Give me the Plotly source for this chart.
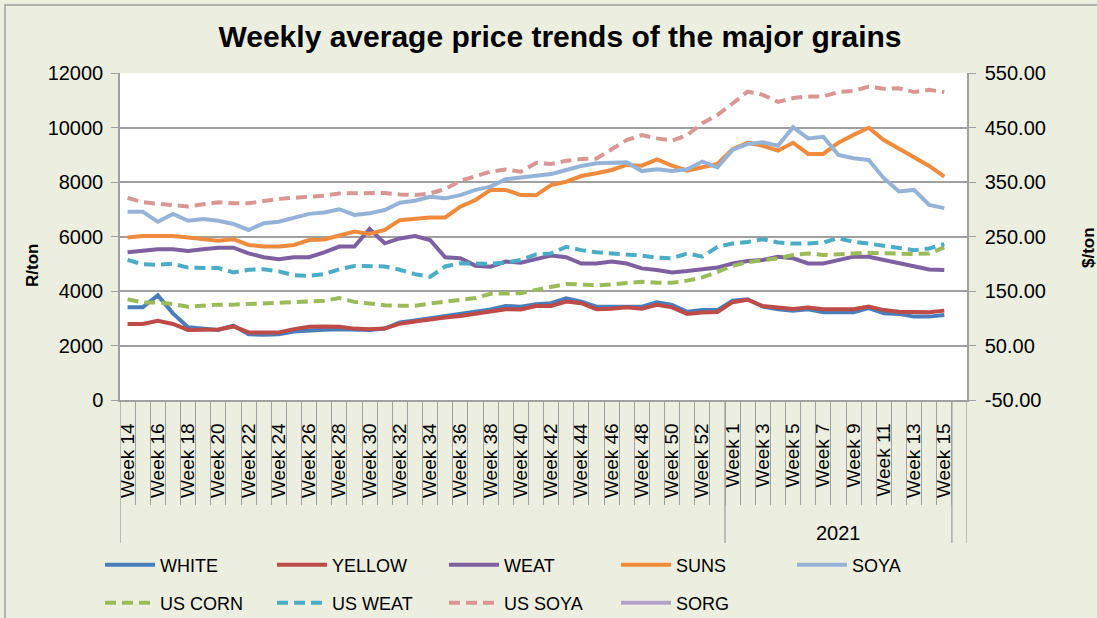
import plotly.graph_objects as go

# ---------------- data ----------------
weeks_2020 = ["Week %d" % w for w in range(14, 54)]
weeks_2021 = ["Week %d" % w for w in range(1, 16)]
categories = weeks_2020 + weeks_2021
year_group = "2021"

white = [3400, 3400, 3840, 3180, 2670, 2630, 2570, 2730, 2410, 2390, 2410, 2510, 2560, 2580,
         2600, 2570, 2570, 2620, 2850, 2920, 3000, 3080, 3150, 3250, 3320, 3450, 3420, 3510,
         3550, 3730, 3610, 3425, 3425, 3450, 3425, 3585, 3490, 3240, 3300, 3300,
         3645, 3700, 3425, 3330, 3280, 3330, 3220, 3220, 3220, 3370, 3180, 3160, 3060, 3060, 3120]
yellow = [2790, 2790, 2910, 2790, 2570, 2570, 2590, 2700, 2480, 2480, 2480, 2600, 2690, 2700,
          2690, 2620, 2600, 2620, 2800, 2880, 2960, 3030, 3080, 3160, 3220, 3330, 3320, 3450,
          3450, 3610, 3550, 3330, 3350, 3400, 3350, 3490, 3400, 3160, 3210, 3230,
          3590, 3680, 3450, 3390, 3340, 3390, 3330, 3330, 3330, 3430, 3300, 3240, 3220, 3220, 3280]
weat = [5420, 5470, 5530, 5530, 5470, 5530, 5590, 5590, 5380, 5240, 5170, 5240, 5240, 5420,
        5630, 5630, 6276, 5750, 5930, 6020, 5870, 5240, 5200, 4930, 4890, 5080, 5040, 5170,
        5300, 5240, 5010, 5010, 5080, 5010, 4830, 4770, 4680, 4730, 4790, 4860,
        5010, 5100, 5140, 5260, 5200, 5010, 5010, 5140, 5260, 5260, 5140, 5040, 4890, 4790, 4770]
suns = [5960, 6020, 6020, 6020, 5960, 5900, 5840, 5900, 5690, 5630, 5630, 5690, 5870, 5890,
        6020, 6180, 6090, 6240, 6600, 6660, 6700, 6700, 7095, 7340, 7710, 7710, 7520, 7510,
        7890, 8010, 8220, 8320, 8440, 8625, 8600, 8830, 8600, 8420, 8540, 8660,
        9200, 9440, 9330, 9150, 9440, 9030, 9030, 9440, 9730, 9990, 9540, 9240, 8910, 8590, 8200]
soya = [6910, 6910, 6540, 6830, 6580, 6640, 6580, 6460, 6240, 6490, 6540, 6670, 6830, 6880,
        7000, 6790, 6850, 6970, 7240, 7310, 7460, 7400, 7520, 7710, 7830, 8100, 8160, 8220,
        8290, 8440, 8590, 8690, 8720, 8720, 8400, 8470, 8400, 8470, 8750, 8540,
        9180, 9400, 9460, 9330, 10010, 9600, 9660, 8990, 8870, 8810, 8140, 7650, 7710, 7160, 7040]
us_corn = [135, 129, 129, 126, 121, 123, 125, 125, 126, 127, 128, 130, 130, 132,
           137, 130, 127, 124, 123, 123, 127, 130, 133, 137, 145, 145, 146, 152,
           158, 163, 162, 160, 162, 165, 167, 165, 165, 169, 175, 185,
           196, 203, 207, 210, 216, 219, 216, 218, 219, 220, 219, 218, 218, 219, 230]
us_weat = [207, 199, 198, 200, 193, 193, 192, 184, 189, 190, 186, 179, 178, 181,
           190, 196, 196, 195, 189, 181, 176, 195, 201, 200, 200, 202, 207, 217,
           219, 231, 225, 221, 219, 218, 215, 211, 210, 219, 213, 231,
           237, 240, 245, 239, 237, 237, 239, 247, 240, 237, 233, 230, 225, 228, 236]
us_soya = [321, 313, 310, 307, 305, 309, 313, 311, 311, 315, 319, 321, 323, 325,
           329, 329, 330, 330, 327, 326, 329, 337, 352, 360, 369, 373, 369, 385,
           383, 389, 392, 393, 409, 427, 436, 430, 426, 436, 458, 473,
           494, 516, 510, 497, 504, 507, 507, 515, 517, 525, 521, 522, 515, 519, 515]
sorg = [None] * len(categories)

left_ticks = [0, 2000, 4000, 6000, 8000, 10000, 12000]
right_ticks = [-50, 50, 150, 250, 350, 450, 550]

# ---------------- figure ----------------
xs = list(range(len(categories)))
n_slots = len(categories) + 1  # one empty slot at the end, as in the original
FONT = "Liberation Sans, Arial, sans-serif"
GRID = "#A0A0A0"
BG = "#ECEFDF"
COL_W = 173          # legend column pitch (px)
LEG_X0 = 100         # legend left edge (px)

fig = go.Figure()

solid = [("WHITE", white, "#4A7EBB", "legend"), ("YELLOW", yellow, "#BE4B48", "legend"),
         ("WEAT", weat, "#7D60A0", "legend"), ("SUNS", suns, "#F08A3C", "legend"),
         ("SOYA", soya, "#95B3D7", "legend3")]
dashed = [("US CORN", us_corn, "#9BBB59"), ("US WEAT", us_weat, "#4BACC6"),
          ("US SOYA", us_soya, "#D99694")]

for name, vals, col, leg in solid:
    fig.add_trace(go.Scatter(x=xs, y=vals, name=name, mode="lines",
                             line=dict(color=col, width=4), legend=leg))
for name, vals, col in dashed:
    fig.add_trace(go.Scatter(x=xs, y=vals, name=name, mode="lines", yaxis="y2",
                             line=dict(color=col, width=4, dash="11px,6px"), legend="legend2"))
fig.add_trace(go.Scatter(x=xs, y=sorg, name="SORG", mode="lines",
                         line=dict(color="#B3A2C7", width=4), legend="legend2"))

tickvals = xs[::2]
ticktext = categories[::2]
boundaries = [i + 0.5 for i in range(len(categories))]


def legend_box(x_px, y_px):
    return dict(orientation="h", xref="container", yref="container",
                x=x_px / 1097, y=1 - y_px / 618, xanchor="left", yanchor="middle",
                itemwidth=50, entrywidth=COL_W - 66, entrywidthmode="pixels",
                font=dict(size=18), bgcolor="rgba(0,0,0,0)", traceorder="normal")


fig.update_layout(
    width=1097, height=618,
    margin=dict(l=120, r=130, t=73, b=218),
    paper_bgcolor=BG, plot_bgcolor="white",
    font=dict(family=FONT, color="black", size=19),
    title=dict(text="<b>Weekly average price trends of the major grains</b>",
               xref="container", yref="container", x=560 / 1097, y=1 - 36 / 618,
               xanchor="center", yanchor="middle",
               font=dict(size=30, family=FONT, color="black")),
    xaxis=dict(range=[-0.5, n_slots - 0.5], tickmode="array", tickvals=tickvals,
               ticktext=ticktext, tickangle=-90, ticks="", ticklabelstandoff=14,
               tickfont=dict(size=19), showgrid=False, zeroline=False,
               showline=True, linecolor=GRID, linewidth=1.5,
               minor=dict(tickmode="array", tickvals=boundaries, ticks="outside",
                          ticklen=103, tickcolor=GRID, tickwidth=1.3, showgrid=False)),
    yaxis=dict(range=[0, 12000], tickmode="array", tickvals=left_ticks,
               ticktext=[str(v) for v in left_ticks], showgrid=True, gridcolor=GRID,
               gridwidth=1.5, zeroline=False, showline=True, linecolor=GRID, linewidth=1.5,
               ticks="outside", ticklen=7, tickcolor=GRID, tickfont=dict(size=20),
               ticklabelstandoff=4),
    yaxis2=dict(range=[-50, 550], tickmode="array", tickvals=right_ticks,
                ticktext=["%.2f" % v for v in right_ticks], overlaying="y",
                side="right", showgrid=False, zeroline=False, showline=True,
                linecolor=GRID, linewidth=1.5, ticks="outside", ticklen=7, tickcolor=GRID,
                tickfont=dict(size=20), ticklabelstandoff=5),
    legend=legend_box(LEG_X0, 565),
    legend3=legend_box(LEG_X0 + 4 * COL_W, 565),
    legend2=legend_box(LEG_X0, 603),
    showlegend=True,
)

# category group dividers and the year label
group_edges = [-0.5, len(weeks_2020) - 0.5, len(categories) - 0.5, n_slots - 0.5]
for gx in group_edges:
    fig.add_shape(type="line", xref="x", yref="paper", x0=gx, x1=gx, y0=0, y1=-143 / 327,
                  line=dict(color=GRID, width=1.3))
fig.add_annotation(text=year_group, xref="x", yref="paper",
                   x=(len(weeks_2020) - 0.5 + len(categories) - 0.5) / 2, y=-133 / 327,
                   showarrow=False, font=dict(size=20), yanchor="middle")

# axis titles
fig.add_annotation(text="<b>R/ton</b>", xref="paper", yref="paper", x=-88 / 847,
                   y=(400 - 266) / 327, showarrow=False, textangle=-90,
                   font=dict(size=17), xanchor="center", yanchor="middle")
fig.add_annotation(text="<b>$/ton</b>", xref="paper", yref="paper", x=(1088 - 120) / 847,
                   y=(400 - 248) / 327, showarrow=False, textangle=-90,
                   font=dict(size=17), xanchor="center", yanchor="middle")

# chart-area border
fig.add_shape(type="rect", xref="paper", yref="paper", x0=-115 / 847, x1=1.25,
              y0=-1.0, y1=395 / 327, line=dict(color="#A0A0A0", width=1.5),
              fillcolor="rgba(0,0,0,0)", layer="below")

fig.write_html(
    "out.html",
    config={"displayModeBar": False},
    post_script="document.body.style.margin='0';document.body.style.overflow='hidden';",
)
